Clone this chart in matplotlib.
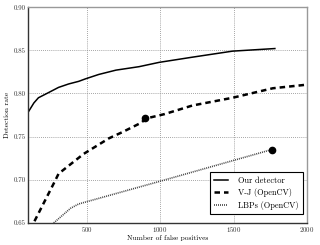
import matplotlib
matplotlib.use("Agg")
import matplotlib.pyplot as plt

plt.rcParams['font.family'] = 'serif'
plt.rcParams['font.serif'] = ['cmr10', 'DejaVu Serif']
plt.rcParams['mathtext.fontset'] = 'cm'
plt.rcParams['axes.formatter.use_mathtext'] = True

ours_x = [100, 140, 171, 240, 308, 377, 445, 493, 582, 699, 856, 993, 1219, 1493, 1781]
ours_y = [0.778, 0.789, 0.795, 0.801, 0.807, 0.811, 0.814, 0.817, 0.822, 0.827, 0.831, 0.836, 0.842, 0.849, 0.852]

vj_x = [144, 288, 308, 479, 651, 740, 870, 904, 1028, 1219, 1493, 1767, 1990]
vj_y = [0.652, 0.700, 0.707, 0.730, 0.748, 0.755, 0.766, 0.771, 0.776, 0.786, 0.795, 0.806, 0.810]

lbp_x = [275, 390, 445, 993, 1760]
lbp_y = [0.650, 0.667, 0.672, 0.698, 0.735]

vj_marker = (900, 0.771)
lbp_marker = (1760, 0.735)

labels = ['Our detector', 'V-J (OpenCV)', 'LBPs (OpenCV)']
xticks = [500, 1000, 1500, 2000]
yticks = [0.65, 0.70, 0.75, 0.80, 0.85, 0.90]

fig = plt.figure(figsize=(3.2, 2.45), dpi=100)
ax = fig.add_axes([0.0875, 0.09, 0.872, 0.881])

ax.plot(ours_x, ours_y, color='black', lw=1.1, ls='-', label=labels[0])
ax.plot(vj_x, vj_y, color='black', lw=1.8, ls=(0, (2.2, 1.6)), label=labels[1])
ax.plot(lbp_x, lbp_y, color='#444444', lw=1.2, ls=(0, (0.6, 0.6)), label=labels[2])
ax.plot([vj_marker[0]], [vj_marker[1]], 'o', color='black', ms=4.5)
ax.plot([lbp_marker[0]], [lbp_marker[1]], 'o', color='black', ms=4.5)

ax.set_xlim(100, 2000)
ax.set_ylim(0.65, 0.90)
ax.set_xticks(xticks)
ax.set_yticks(yticks)
ax.set_yticklabels(['%.2f' % v for v in yticks])
ax.tick_params(labelsize=5, length=0, pad=1.5, colors='#333333')
ax.grid(True, color='#888888', ls=(0, (1, 1.5)), lw=0.6)

for s in ['left', 'bottom']:
    ax.spines[s].set_color('#333333')
    ax.spines[s].set_linewidth(1.0)
for s in ['top', 'right']:
    ax.spines[s].set_color('#999999')
    ax.spines[s].set_linewidth(1.0)

ax.set_xlabel('Number of false positives', fontsize=5.3, labelpad=1)
ax.set_ylabel('Detection rate', fontsize=5.3, labelpad=3)

leg = ax.legend(loc='lower right', bbox_to_anchor=(0.986, 0.042), fontsize=6,
                frameon=True, fancybox=False, edgecolor='black', framealpha=1,
                borderpad=0.5, handlelength=1.6, handletextpad=1.3,
                labelspacing=0.4, borderaxespad=0)
leg.get_frame().set_linewidth(0.8)

fig.savefig('out.png', dpi=100)
